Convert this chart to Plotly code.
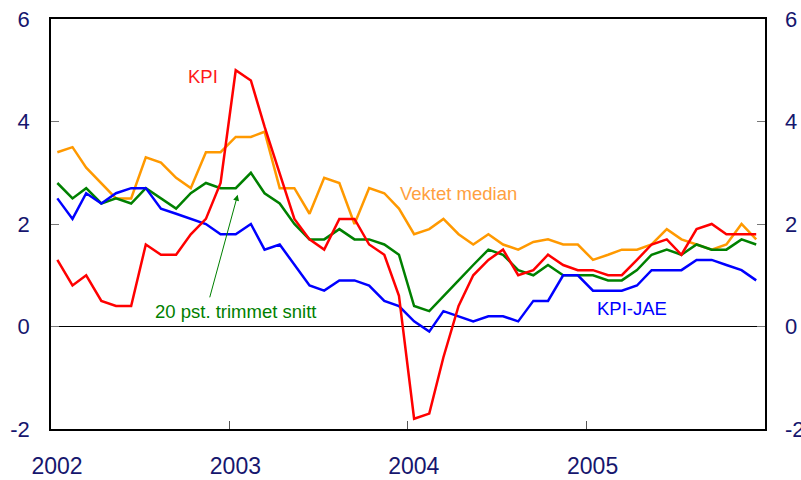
import plotly.graph_objects as go

years = [2002, 2003, 2004, 2005]
months = [f"{y}-{m:02d}-14" for y in years for m in range(1, 13)]

kpi = [1.3, 0.8, 1.0, 0.5, 0.4, 0.4, 1.6, 1.4, 1.4, 1.8, 2.1, 2.8,
       5.0, 4.8, 3.9, 3.0, 2.1, 1.7, 1.5, 2.1, 2.1, 1.6, 1.4, 0.6,
       -1.8, -1.7, -0.6, 0.4, 1.0, 1.3, 1.5, 1.0, 1.1, 1.4, 1.2, 1.1,
       1.1, 1.0, 1.0, 1.3, 1.6, 1.7, 1.4, 1.9, 2.0, 1.8, 1.8, 1.8]
vektet_median = [3.4, 3.5, 3.1, 2.8, 2.5, 2.5, 3.3, 3.2, 2.9, 2.7, 3.4, 3.4,
                 3.7, 3.7, 3.8, 2.7, 2.7, 2.2, 2.9, 2.8, 2.0, 2.7, 2.6, 2.3,
                 1.8, 1.9, 2.1, 1.8, 1.6, 1.8, 1.6, 1.5, 1.65, 1.7, 1.6, 1.6,
                 1.3, 1.4, 1.5, 1.5, 1.6, 1.9, 1.7, 1.6, 1.5, 1.6, 2.0, 1.7]
trimmet = [2.8, 2.5, 2.7, 2.4, 2.5, 2.4, 2.7, 2.5, 2.3, 2.6, 2.8, 2.7,
           2.7, 3.0, 2.6, 2.4, 2.0, 1.7, 1.7, 1.9, 1.7, 1.7, 1.6, 1.4,
           0.4, 0.3, 0.6, 0.9, 1.2, 1.5, 1.4, 1.1, 1.0, 1.2, 1.0, 1.0,
           1.0, 0.9, 0.9, 1.1, 1.4, 1.5, 1.4, 1.6, 1.5, 1.5, 1.7, 1.6]
kpi_jae = [2.5, 2.1, 2.6, 2.4, 2.6, 2.7, 2.7, 2.3, 2.2, 2.1, 2.0, 1.8,
           1.8, 2.0, 1.5, 1.6, 1.2, 0.8, 0.7, 0.9, 0.9, 0.8, 0.5, 0.4,
           0.1, -0.1, 0.3, 0.2, 0.1, 0.2, 0.2, 0.1, 0.5, 0.5, 1.0, 1.0,
           0.7, 0.7, 0.7, 0.8, 1.1, 1.1, 1.1, 1.3, 1.3, 1.2, 1.1, 0.9]

year_ticks = [f"{y}-01-01" for y in years]
year_labels = [str(y) for y in years]
y_ticks = [-2, 0, 2, 4, 6]
y_labels = ["-2", "0", "2", "4", "6"]

navy = "#16166e"
font_family = "Liberation Sans, Arial, sans-serif"

fig = go.Figure()
series = [
    (vektet_median, "#ff9900", "Vektet median", "y"),
    (trimmet, "#008000", "20 pst. trimmet snitt", "y"),
    (kpi_jae, "#0000ff", "KPI-JAE", "y"),
    (kpi, "#ff0000", "KPI", "y2"),
]
for vals, col, name, ax in series:
    fig.add_trace(go.Scatter(x=months, y=vals, mode="lines", name=name,
                             yaxis=ax, line=dict(color=col, width=2.5)))

fig.update_layout(
    width=801, height=480,
    margin=dict(l=51, r=36, t=19, b=51),
    paper_bgcolor="white", plot_bgcolor="white",
    showlegend=False,
    font=dict(family=font_family, color=navy),
    xaxis=dict(
        type="date", range=["2002-01-01", "2006-01-01"], automargin=False,
        tickvals=year_ticks, ticktext=year_labels,
        ticks="inside", ticklen=8, tickcolor="#555555", tickwidth=1,
        ticklabelshift=6, ticklabelstandoff=16,
        showgrid=False, showline=True, linecolor="black", linewidth=1.5,
        mirror=True, tickfont=dict(size=23, color=navy),
    ),
    yaxis=dict(
        range=[-2, 6], tickvals=y_ticks, ticktext=y_labels, automargin=False,
        ticks="inside", ticklen=8, tickcolor="#777777", tickwidth=1,
        ticklabelstandoff=15,
        showgrid=False, showline=True, linecolor="black", linewidth=1.5,
        mirror=True, zeroline=True, zerolinecolor="black", zerolinewidth=1,
        tickfont=dict(size=22, color=navy),
    ),
    yaxis2=dict(
        range=[-2, 6], tickvals=y_ticks, ticktext=y_labels, overlaying="y",
        side="right", anchor="x", automargin=False,
        ticks="inside", ticklen=8, tickcolor="#777777",
        tickwidth=1, ticklabelstandoff=19, showgrid=False, zeroline=False,
        showline=False, tickfont=dict(size=22, color=navy),
    ),
)

ann_font = 18.5
fig.add_annotation(x="2002-11-09", y=4.87, text="KPI", showarrow=False,
                   font=dict(size=ann_font, color="#ff1a1a"))
fig.add_annotation(x="2004-04-13", y=2.6, text="Vektet median", showarrow=False,
                   font=dict(size=ann_font, color="#ffa040"))
fig.add_annotation(x="2003-01-13", y=0.3, text="20 pst. trimmet snitt",
                   showarrow=False, font=dict(size=ann_font, color="#008000"))
fig.add_annotation(x="2005-04-03", y=0.36, text="KPI-JAE", showarrow=False,
                   font=dict(size=ann_font, color="#0000ff"))
fig.add_annotation(x="2003-01-18", y=2.57, ax="2002-11-21", ay=0.54,
                   axref="x", ayref="y", text="", showarrow=True,
                   arrowhead=2, arrowsize=1.2, arrowwidth=1,
                   arrowcolor="#008000")

fig.write_html("out.html",
               config={"displayModeBar": False},
               post_script="document.body.style.margin='0';"
                           "document.body.style.overflow='hidden';")
